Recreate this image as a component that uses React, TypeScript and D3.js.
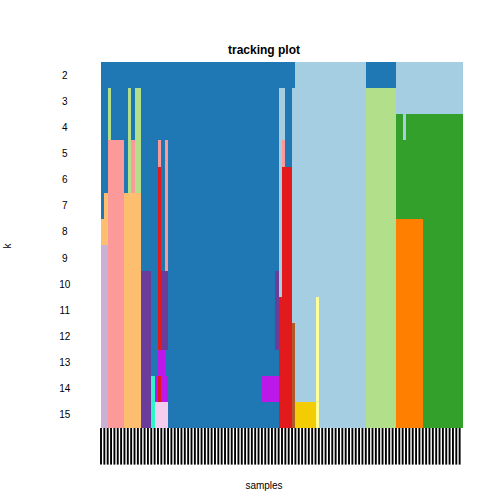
import React from 'react';
import * as d3 from 'd3';

// cluster colours (ConsensusClusterPlus palette order)
const palette = [
  '#A6CEE3', '#1F78B4', '#B2DF8A', '#33A02C', '#FB9A99', '#E31A1C',
  '#FDBF6F', '#FF7F00', '#CAB2D6', '#6A3D9A', '#FFFF99', '#B15928',
  '#BD18EA', '#2EF4CA', '#F4CCED', '#F4CC03',
];

const nSamples = 108;
const kLabels = [2, 3, 4, 5, 6, 7, 8, 9, 10, 11, 12, 13, 14, 15];

// each row: runs of [cluster colour number, number of samples], left to right
const trackK2 = [[2, 58], [1, 21], [2, 9], [1, 20]];
const trackK3 = [[2, 2], [3, 1], [2, 5], [3, 1], [2, 1], [3, 2], [2, 41], [1, 2], [2, 2], [1, 22], [3, 9], [1, 20]];
const trackK4 = [[2, 2], [3, 1], [2, 5], [3, 1], [2, 1], [3, 2], [2, 41], [1, 2], [2, 2], [1, 22], [3, 9], [4, 2], [1, 1], [4, 17]];
const trackK5 = [[2, 2], [5, 5], [2, 1], [3, 1], [5, 1], [3, 2], [2, 5], [5, 1], [2, 1], [5, 1], [2, 33], [1, 1], [5, 1], [2, 2], [1, 22], [3, 9], [4, 20]];
const trackK6 = [[2, 2], [5, 5], [2, 1], [3, 1], [5, 1], [3, 2], [2, 5], [6, 1], [2, 1], [5, 1], [2, 33], [1, 1], [6, 3], [1, 22], [3, 9], [4, 20]];
const trackK7 = [[2, 1], [7, 1], [5, 5], [7, 5], [2, 5], [6, 1], [2, 1], [5, 1], [2, 33], [1, 1], [6, 3], [1, 22], [3, 9], [4, 20]];
const trackK8 = [[7, 2], [5, 5], [7, 5], [2, 5], [6, 1], [2, 1], [5, 1], [2, 33], [1, 1], [6, 3], [1, 22], [3, 9], [8, 8], [4, 12]];
const trackK9 = [[9, 2], [5, 5], [7, 5], [2, 5], [6, 1], [2, 1], [5, 1], [2, 33], [1, 1], [6, 3], [1, 22], [3, 9], [8, 8], [4, 12]];
const trackK10 = [[9, 2], [5, 5], [7, 5], [10, 3], [2, 2], [6, 1], [10, 2], [2, 32], [10, 1], [1, 1], [6, 3], [1, 22], [3, 9], [8, 8], [4, 12]];
const trackK11 = [[9, 2], [5, 5], [7, 5], [10, 3], [2, 2], [6, 1], [10, 2], [2, 32], [10, 1], [6, 4], [1, 7], [11, 1], [1, 14], [3, 9], [8, 8], [4, 12]];
const trackK12 = [[9, 2], [5, 5], [7, 5], [10, 3], [2, 2], [6, 1], [10, 2], [2, 32], [10, 1], [6, 4], [12, 1], [1, 6], [11, 1], [1, 14], [3, 9], [8, 8], [4, 12]];
const trackK13 = [[9, 2], [5, 5], [7, 5], [10, 3], [2, 2], [13, 2], [2, 34], [6, 4], [12, 1], [1, 6], [11, 1], [1, 14], [3, 9], [8, 8], [4, 12]];
const trackK14 = [[9, 2], [5, 5], [7, 5], [10, 3], [14, 1], [13, 1], [6, 1], [13, 2], [2, 28], [13, 5], [6, 4], [12, 1], [1, 6], [11, 1], [1, 14], [3, 9], [8, 8], [4, 12]];
const trackK15 = [[9, 2], [5, 5], [7, 5], [10, 3], [14, 1], [15, 4], [2, 33], [6, 4], [12, 1], [16, 6], [11, 1], [1, 14], [3, 9], [8, 8], [4, 12]];

const tracks = [trackK2, trackK3, trackK4, trackK5, trackK6, trackK7, trackK8,
  trackK9, trackK10, trackK11, trackK12, trackK13, trackK14, trackK15];

const width = 504;
const height = 504;

// user coordinates like R's plot(xlim=c(-0.1,1), ylim=c(0,1))
const x = d3.scaleLinear().domain([0, 1]).range([101, 463]);
const y = d3.scaleLinear().domain([0, 1]).range([428, 62]);

const expand = (runs: number[][]) => runs.flatMap(([c, n]) => d3.range(n).map(() => c));

const App: React.FC = () => {
  const nRows = tracks.length;
  const cells = tracks.flatMap((runs, i) =>
    expand(runs).map((c, j) => ({ i, j, c }))
  );
  const xl = d3.range(nSamples).map(j => j / nSamples);

  return (
    <svg width={width} height={height} style={{ position: 'absolute', left: 0, top: 0, background: '#fff' }}
      fontFamily="'Liberation Sans', Arial, sans-serif">
      <text x={264} y={54} textAnchor="middle" fontWeight="bold" fontSize={12}>tracking plot</text>

      <g shapeRendering="crispEdges">
        {cells.map(({ i, j, c }) => (
          <rect key={`${i}-${j}`}
            x={x(j / nSamples)}
            y={y(1 - i / nRows)}
            width={x((j + 1) / nSamples) - x(j / nSamples) + 0.4}
            height={y(1 - (i + 1) / nRows) - y(1 - i / nRows) + 0.4}
            fill={palette[c - 1]} />
        ))}
      </g>

      <g stroke="#000" strokeWidth={1.9}>
        {xl.map((v, j) => (
          <line key={j} x1={x(v)} x2={x(v)} y1={y(-0.1)} y2={y(0)} />
        ))}
      </g>

      <g fontSize={10} textAnchor="middle">
        {kLabels.map((k, i) => (
          <text key={k} x={x(-0.1)} y={y(1 - (i + 0.5) / nRows)} dy="0.35em">{k}</text>
        ))}
      </g>

      <text x={264} y={489} textAnchor="middle" fontSize={10}>samples</text>
      <text transform="translate(11,246) rotate(-90)" textAnchor="middle" fontSize={10}>k</text>
    </svg>
  );
};

export default App;
